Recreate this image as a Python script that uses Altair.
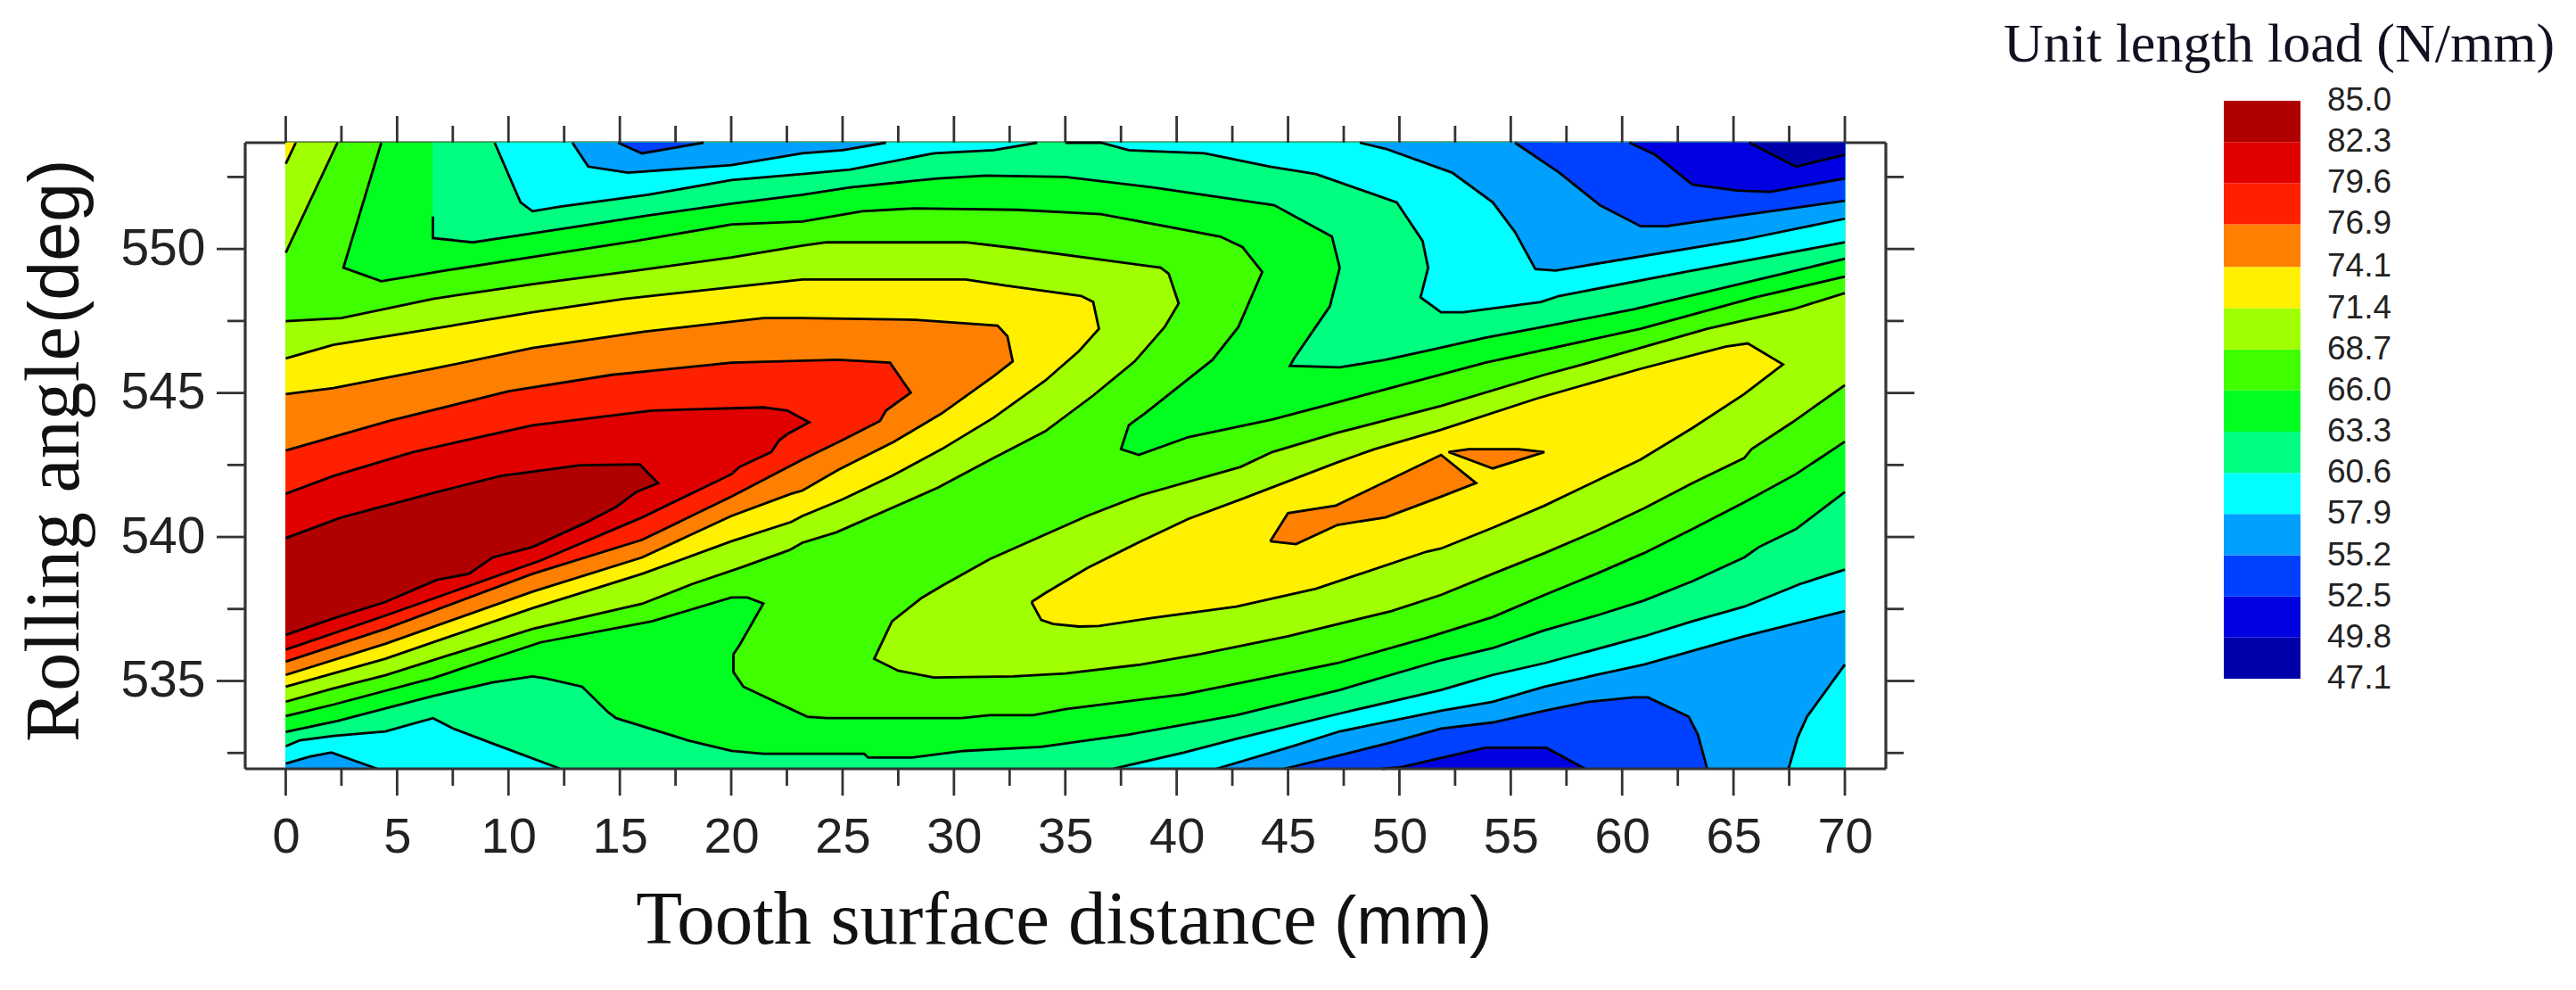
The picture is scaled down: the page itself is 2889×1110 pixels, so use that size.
import altair as alt
import pandas as pd

TOP = 553.69
BOT = 531.95
X_DOMAIN = [-1.82, 71.84]
Y_DOMAIN = [BOT, TOP]

# band colours, low to high
B0, B1, B2, B3, B4 = "#0000aa", "#0000e0", "#0040ff", "#00a0ff", "#00ffff"
B5, B6, B7, B8, B9 = "#00ff80", "#00ff20", "#40ff00", "#a0ff00", "#fff000"
B10, B11, B12, B13 = "#ff8000", "#ff2000", "#e00000", "#b00000"

legend_levels = [47.1, 49.8, 52.5, 55.2, 57.9, 60.6, 63.3, 66.0, 68.7, 71.4, 74.1, 76.9, 79.6, 82.3, 85.0]
legend_colors = [B0, B1, B2, B3, B4, B5, B6, B7, B8, B9, B10, B11, B12, B13]

x_major = list(range(0, 71, 5))
x_minor = [2.5, 7.5, 12.5, 17.5, 22.5, 27.5, 32.5, 37.5, 42.5, 47.5, 52.5, 57.5, 62.5, 67.5]
y_major = [535, 540, 545, 550]
y_minor = [532.5, 537.5, 542.5, 547.5, 552.5]

# contour lines: (distance mm, angle deg)
top_b0 = [(65.7,553.69),(67.8,552.86),(70,553.27)]
top_b1 = [(60.33,553.69),(61.49,553.27),(63.15,552.24),(65.15,552.03),(66.64,551.98),(70,552.45)]
top_b2 = [(55.19,553.69),(57.18,552.65),(59.0,551.52),(60.83,550.79),(61.99,550.79),(65.15,551.15),(70,551.67)]
top_b2_small = [(14.92,553.69),(15.99,553.32),(18.76,553.69)]
top_b3 = [(48.22,553.69),(49.38,553.48),(52.37,552.65),(54.19,551.62),(55.19,550.59),(56.1,549.3),(57.01,549.25),(58.17,549.4),(65.48,550.33),(70,551.05)]
top_b3_small = [(12.87,553.69),(13.58,552.86),(15.37,552.65),(20.01,552.91),(23.2,553.32),(25,553.43),(26.95,553.69)]
top_b4_left = [(9.38,553.69),(10.54,551.62),(11.08,551.31),(12.33,551.47),(16.26,551.88),(20.01,552.39),(23.2,552.6),(25.34,552.76),(29.1,553.32),(31.78,553.43),(33.74,553.69)]
top_b4_right = [(35,553.69),(36.6,553.69),(37.85,553.43),(41.25,553.32),(44.2,552.86),(46.25,552.6),(49.88,551.62),(51.04,550.28),(51.29,549.35),(50.95,548.32),(51.87,547.8),(52.86,547.8),(56.35,548.16),(57.18,548.37),(63.15,549.25),(70,550.23)]
top_b5 = [(6.61,551.13),(6.61,550.38),(8.4,550.23),(11.08,550.54),(16.26,551.16),(20.01,551.57),(23.2,551.88),(25.34,552.14),(29.28,552.45),(31.42,552.55),(35,552.5),(38.93,552.14),(44.38,551.52),(46.97,550.43),(47.32,549.35),(46.88,548.01),(45.27,546.2),(45.09,545.94),(47.32,545.89),(49.38,546.15),(51.22,546.46),(53.86,546.92),(56,547.23),(60.5,547.9),(67.8,549.25),(70,549.66)]
top_b6 = [(4.29,553.69),(2.59,549.35),(4.29,548.88),(7.15,549.25),(11.79,549.81),(15.73,550.28),(20.01,550.85),(23.2,550.95),(25.88,551.31),(28.2,551.41),(32.85,551.36),(36.6,551.21),(41.96,550.43),(42.95,550.07),(43.84,549.2),(42.77,547.29),(41.61,546.15),(38.57,544.29),(37.85,543.88),(37.5,543.05),(38.3,542.85),(40.53,543.47),(44.29,544.08),(47.32,544.7),(53.86,546.05),(60.83,547.23),(65.98,548.32),(70,549.04)]

bot_b6 = [(0,533.78),(2.14,534.18),(6.61,535.1),(11.44,536.34),(16.44,537.07),(20.01,537.9),(20.73,537.9),(21.44,537.69),(20.37,536.24),(20.1,535.93),(20.1,535.31),(20.55,534.8),(23.41,533.76),(24.27,533.71),(30.35,533.71),(31.6,533.81),(33.56,533.81),(35,534.02),(40.35,534.54),(44.64,535.21),(47.22,535.62),(51.22,536.5),(54.19,537.22),(56.52,537.99),(58.84,538.72),(60.98,539.44),(63.15,540.27),(65.48,541.2),(67.8,542.18),(70,543.31)]
bot_b5 = [(0,533.23),(2.32,533.61),(6.61,534.48),(9.29,534.95),(11.08,535.16),(11.62,535.1),(13.31,534.8),(14.47,533.92),(14.83,533.71),(18.05,532.94),(20.01,532.57),(21.44,532.47),(25.97,532.47),(26.15,532.34),(28.11,532.34),(30.44,532.57),(33.92,532.71),(37.85,533.14),(42.68,533.81),(47.32,534.69),(51.87,535.72),(54.19,536.14),(56.52,536.76),(58.84,537.27),(60.98,537.79),(63.15,538.46),(65.48,539.29),(66.14,539.65),(67.8,540.27),(70,541.56)]
bot_b4_left = [(0,532.73),(0.63,532.94),(2.14,533.09),(4.47,533.25),(6.61,533.71),(7.51,533.35),(9.29,532.83),(12.33,531.95)]
bot_b4_right = [(37.14,531.95),(40.35,532.52),(42.68,532.99),(47.32,533.87),(51.87,534.69),(54.19,535.21),(56.52,535.62),(60.98,536.55),(63.15,537.07),(65.48,537.58),(67.97,538.36),(70,538.87)]
bot_b3_left = [(0,532.13),(1.07,532.37),(2.05,532.52),(4.11,531.95)]
bot_b3_right = [(41.78,531.95),(45.18,532.73),(47.32,533.25),(51.87,533.97),(54.19,534.28),(56.52,534.8),(58.84,535.21),(60.98,535.57),(65.48,536.55),(70,537.43)]
bot_b4_corner = [(67.47,531.95),(67.88,533.04),(68.3,533.76),(70,535.57)]
bot_b2 = [(44.82,531.95),(47.32,532.42),(49.71,532.88),(51.87,533.35),(54.19,533.56),(56.52,533.97),(58.51,534.28),(60.5,534.43),(61.16,534.43),(62.99,533.76),(63.4,533.14),(63.82,531.95)]
bot_b1 = [(49.21,531.95),(50.04,532.0),(53.86,532.68),(56.6,532.68),(58.34,531.95)]

high_b8_corner = [(2.32,553.69),(0,549.87)]
high_b8_left = [(0,547.49),(2.5,547.6),(6.61,548.27),(11.08,548.78),(15.73,549.25),(20.01,549.71),(23.2,550.12),(24.27,550.23),(30.53,550.23),(32.85,550.02),(39.28,549.35),(39.64,549.14),(40.09,548.11),(39.46,547.29),(38.12,546.1),(36.25,544.91),(34.1,543.67),(31.78,542.74),(29.28,541.71),(24.72,540.16),(23.2,539.8),(22.6,539.54),(20.37,538.92),(18.23,538.36),(16.0,537.68),(11.08,536.81),(4.47,535.2),(2.14,534.74),(0,534.28)]
high_b8_right = [(70,548.47),(67.64,547.9),(63.82,547.23),(58.51,546.05),(56.51,545.63),(51.87,544.55),(47.22,543.62),(44.29,542.95),(42.86,542.43),(38.39,541.45),(35.98,540.73),(31.6,539.23),(29.45,538.3),(28.56,537.89),(27.22,537.07),(26.42,535.77),(27.49,535.36),(29.1,535.12),(32.67,535.16),(35,535.26),(38.39,535.57),(41.07,535.93),(45,536.55),(49.65,537.43),(51.87,537.99),(54.19,538.72),(56.52,539.44),(58.84,540.21),(60.98,540.99),(63.15,541.87),(65.48,542.74),(65.81,543.05),(67.64,543.98),(70,545.27)]
high_b9_corner = [(0.45,553.69),(0,552.96)]
high_b9_left = [(0,546.2),(2.14,546.67),(6.61,547.23),(11.08,547.8),(15.19,548.27),(20.73,548.73),(23.2,548.94),(30.53,548.94),(32.31,548.73),(35.71,548.37),(36.25,548.16),(36.51,547.23),(35.62,546.46),(34.1,545.43),(31.78,544.14),(29.45,543.05),(27.22,542.12),(24.99,541.3),(23.2,540.73),(22.69,540.52),(20.01,539.85),(16.0,538.72),(11.08,537.53),(4.47,535.77),(0,534.8)]
high_b9_right = [(33.48,537.74),(33.92,537.12),(34.46,536.98),(35.62,536.89),(36.51,536.91),(38.75,537.17),(42.68,537.58),(46.25,538.2),(51.22,539.49),(51.87,539.6),(54.19,540.32),(56.52,541.09),(60.83,542.69),(63.15,543.78),(65.48,544.96),(67.22,545.99),(65.64,546.72),(64.65,546.61),(60.83,545.84),(56.18,544.81),(51.87,543.72),(48.88,543.05),(47.22,542.59),(42.86,541.3),(40.53,540.63),(38.39,539.85),(35.98,538.92),(34.1,538.05)]
high_b10_left = [(0,544.96),(2.14,545.17),(6.61,545.84),(11.08,546.56),(16.08,547.13),(21.44,547.6),(23.2,547.6),(28.29,547.54),(31.96,547.34),(32.4,546.97),(32.64,546.1),(31.78,545.58),(29.45,544.29),(27.31,543.31),(24.81,542.33),(23.2,541.61),(22.69,541.5),(20.01,540.73),(16.0,539.29),(11.08,538.1),(4.47,536.29),(0,535.21)]
high_b10_blob = [(44.2,539.85),(45,540.83),(47.15,541.09),(51.87,542.85),(53.44,541.87),(51.87,541.4),(49.38,540.68),(47.22,540.42),(45.36,539.75)]
high_b10_tri = [(52.2,542.95),(53.11,543.05),(55.35,543.05),(56.51,542.95),(54.19,542.38)]
high_b11 = [(0,543.0),(4.65,544.03),(10.01,545.06),(14.65,545.63),(20.01,546.05),(24.8,546.15),(27.13,546.05),(28.06,545.01),(26.95,544.39),(26.68,544.03),(24.99,543.36),(23.2,542.69),(20.01,541.4),(16.0,539.9),(11.08,538.72),(4.47,536.81),(0,535.67)]
high_b12 = [(0,541.5),(2.14,542.12),(5.72,542.95),(11.08,543.88),(16.44,544.39),(21.44,544.5),(22.52,544.39),(23.5,543.98),(22.52,543.57),(22.16,543.36),(21.8,542.95),(20.37,542.43),(20.01,542.18),(16.0,540.68),(11.44,539.18),(4.47,537.27),(0,536.09)]
high_b13 = [(0,539.96),(2.5,540.68),(6.79,541.56),(9.65,542.12),(13.22,542.49),(15.9,542.52),(16.71,541.87),(15.73,541.56),(14.83,541.04),(13.4,540.47),(11.08,539.65),(9.29,539.29),(8.22,538.72),(6.79,538.51),(4.47,537.74),(2.14,537.17),(0,536.6)]

# (line, colour, corners that close the region along the plot edge, closed loop?)
regions = [
    (top_b6, B6, [(70, TOP)], False),
    (top_b5, B5, [(70, TOP), (6.61, TOP)], False),
    (top_b4_left, B4, [], False),
    (top_b4_right, B4, [(70, TOP)], False),
    (top_b3_small, B3, [], False),
    (top_b3, B3, [(70, TOP)], False),
    (top_b2_small, B2, [], False),
    (top_b2, B2, [(70, TOP)], False),
    (top_b1, B1, [(70, TOP)], False),
    (top_b0, B0, [(70, TOP)], False),
    (bot_b6, B6, [(70, BOT), (0, BOT)], False),
    (bot_b5, B5, [(70, BOT), (0, BOT)], False),
    (bot_b4_left, B4, [(0, BOT)], False),
    (bot_b4_right, B4, [(70, BOT)], False),
    (bot_b3_left, B3, [(0, BOT)], False),
    (bot_b3_right, B3, [(70, BOT)], False),
    (bot_b4_corner, B4, [(70, BOT)], False),
    (bot_b2, B2, [], False),
    (bot_b1, B1, [], False),
    (high_b8_corner, B8, [(0, TOP)], False),
    (high_b8_left, B8, [], False),
    (high_b8_right, B8, [], False),
    (high_b9_corner, B9, [(0, TOP)], False),
    (high_b9_left, B9, [], False),
    (high_b9_right, B9, [], True),
    (high_b10_left, B10, [], False),
    (high_b10_blob, B10, [], True),
    (high_b10_tri, B10, [], True),
    (high_b11, B11, [], False),
    (high_b12, B12, [], False),
    (high_b13, B13, [], False),
]

x_axis = alt.Axis(values=x_major, domain=False, ticks=False, grid=False, title=None, labelFont="Liberation Sans",
                  labelFontSize=56, labelColor="#222222", labelPadding=49, labelFlush=False, labelOverlap=False)
y_axis = alt.Axis(values=y_major, domain=False, ticks=False, grid=False, title=None, labelFont="Liberation Sans",
                  labelFontSize=57, labelColor="#222222", labelPadding=45, format="d", labelOverlap=False)
X = alt.X("x:Q", scale=alt.Scale(domain=X_DOMAIN, nice=False, zero=False), axis=x_axis)
Y = alt.Y("y:Q", scale=alt.Scale(domain=Y_DOMAIN, nice=False, zero=False), axis=y_axis)


def frame(points):
    return pd.DataFrame({"i": range(len(points)), "x": [p[0] for p in points], "y": [p[1] for p in points]})


AX = "#333333"
W, H = 1840, 702

layers = []
# frame under the colour field
stub = alt.Chart(pd.DataFrame({"x": [0], "y": [TOP]}))
layers.append(stub.mark_rule(color=AX, strokeWidth=3.2).encode(x=X, y=Y, opacity=alt.value(0)))
layers.append(stub.mark_rule(color=AX, strokeWidth=3.2).encode(x=alt.value(0), x2=alt.value(W), y=alt.value(0)))
layers.append(stub.mark_rule(color=AX, strokeWidth=3.2).encode(x=alt.value(0), y=alt.value(0), y2=alt.value(H)))
layers.append(stub.mark_rule(color=AX, strokeWidth=3.2).encode(x=alt.value(W), y=alt.value(0), y2=alt.value(H)))

base = frame([(0, BOT), (70, BOT), (70, TOP), (0, TOP)])
layers.append(alt.Chart(base).mark_line(fill=B7, stroke=B7, strokeWidth=0.5, interpolate="linear-closed").encode(
    x=X, y=Y, order="i:Q"))
for line, colour, corners, _ in regions:
    layers.append(alt.Chart(frame(list(line) + list(corners))).mark_line(
        fill=colour, stroke=colour, strokeWidth=0.5, interpolate="linear-closed").encode(x=X, y=Y, order="i:Q"))

rows = []
for k, (line, _, _, closed) in enumerate(regions):
    pts = list(line) + ([line[0]] if closed else [])
    for i, p in enumerate(pts):
        rows.append({"id": k, "i": i, "x": p[0], "y": p[1]})
layers.append(alt.Chart(pd.DataFrame(rows)).mark_line(color="#000000", strokeWidth=2.8).encode(
    x=X, y=Y, detail="id:N", order="i:Q"))


def vticks(values, y1, y2, w):
    return alt.Chart(pd.DataFrame({"x": values})).mark_rule(color=AX, strokeWidth=w, clip=False).encode(
        x=X, y=alt.value(y1), y2=alt.value(y2))


def hticks(values, x1, x2, w):
    return alt.Chart(pd.DataFrame({"y": values})).mark_rule(color=AX, strokeWidth=w, clip=False).encode(
        y=Y, x=alt.value(x1), x2=alt.value(x2))


layers += [
    vticks(x_major, H, H + 30, 2.8), vticks(x_minor, H, H + 19, 2.8),
    vticks(x_major, -30, 0, 2.8), vticks(x_minor, -19, 0, 2.8),
    hticks(y_major, -32, 0, 2.8), hticks(y_minor, -20, 0, 2.8),
    hticks(y_major, W, W + 32, 2.8), hticks(y_minor, W, W + 20, 2.8),
]
layers.append(stub.mark_rule(color=AX, strokeWidth=3.2).encode(x=alt.value(0), x2=alt.value(W), y=alt.value(H)))

titles = [("Tooth surface distance", 15.72, "Liberation Serif", 85), ("(mm)", 47.06, "Liberation Sans", 76)]
for text, xpos, font, size in titles:
    layers.append(alt.Chart(pd.DataFrame({"x": [xpos], "t": [text]})).mark_text(
        align="left", baseline="alphabetic", font=font, fontSize=size, color="#111111").encode(
        x=X, y=alt.value(H + 196), text="t:N"))
ytitles = [("Rolling angle", 832 - 160, "Liberation Serif", 86), ("(deg)", 363 - 160, "Liberation Sans", 79)]
for text, ypos, font, size in ytitles:
    layers.append(alt.Chart(pd.DataFrame({"t": [text]})).mark_text(
        align="left", baseline="alphabetic", angle=270, font=font, fontSize=size, color="#111111").encode(
        x=alt.value(-187), y=alt.value(ypos), text="t:N"))

plot = alt.layer(*layers)

# legend
LX = alt.Scale(domain=[0, 1], range=[2219, 2305])
LY = alt.Scale(domain=[47.1, 85.0], range=[601, -47], nice=False, zero=False)
bands = pd.DataFrame({"lo": legend_levels[:-1], "hi": legend_levels[1:], "c": legend_colors, "a": 0, "b": 1})
bars = alt.Chart(bands).mark_rect().encode(
    x=alt.X("a:Q", scale=LX, axis=None), x2="b:Q",
    y=alt.Y("lo:Q", scale=LY, axis=None), y2="hi:Q",
    color=alt.Color("c:N", scale=None))
labels = alt.Chart(pd.DataFrame({"v": legend_levels, "b": 1, "t": [f"{v:.1f}" for v in legend_levels]})).mark_text(
    align="left", baseline="middle", dx=30, font="Liberation Sans", fontSize=37, color="#222222").encode(
    x=alt.X("b:Q", scale=LX, axis=None), y=alt.Y("v:Q", scale=LY, axis=None), text="t:N")
ltitle = alt.Chart(pd.DataFrame({"v": [85.0], "b": [0.5], "t": ["Unit length load (N/mm)"]})).mark_text(
    align="center", baseline="alphabetic", dx=19, dy=-44, font="Liberation Serif", fontSize=62, color="#111122").encode(
    x=alt.X("b:Q", scale=LX, axis=None), y=alt.Y("v:Q", scale=LY, axis=None), text="t:N")
legend = alt.layer(bars, labels, ltitle)

chart = alt.layer(plot, legend).resolve_scale(x="independent", y="independent").properties(
    width=W, height=H,
    autosize=alt.AutoSizeParams(type="none"),
    padding={"left": 267, "top": 152, "right": 766, "bottom": 236},
).configure_view(stroke=None).configure(background="white")

chart.save("out.html", embed_options={"renderer": "svg", "actions": False})
